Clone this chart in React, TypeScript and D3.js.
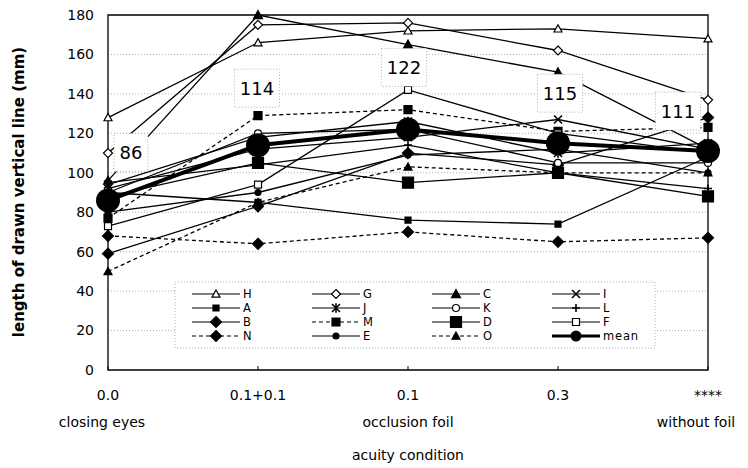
import React from "react";
import * as d3 from "d3";

const categories = ["0.0", "0.1+0.1", "0.1", "0.3", "****"];
const categorySub = ["closing eyes", "", "occlusion foil", "", "without foil"];
const yTicks = [0, 20, 40, 60, 80, 100, 120, 140, 160, 180];

const H = [128, 166, 172, 173, 168];
const A = [90, 85, 76, 74, 108];
const B = [59, 83, 110, 104, 128];
const N = [68, 64, 70, 65, 67];
const G = [110, 175, 176, 162, 137];
const J = [94, 118, 126, 110, 115];
const M = [77, 129, 132, 121, 123];
const E = [80, 90, 109, 112, 100];
const C = [96, 180, 165, 151, 112];
const K = [90, 120, 122, 105, 105];
const D = [88, 105, 95, 100, 88];
const O = [50, 85, 103, 100, 100];
const I = [92, 112, 118, 127, 112];
const L = [95, 104, 114, 100, 92];
const F = [73, 94, 142, 120, 110];
const meanValues = [86, 114, 122, 115, 111];
const meanLabels = ["86", "114", "122", "115", "111"];

type Kind = "triangle" | "diamond" | "square" | "circle" | "x" | "plus" | "asterisk";
interface Style { kind: Kind; r: number; filled: boolean; dashed?: boolean; lw?: number }

const seriesList: { name: string; values: number[]; style: Style }[] = [
  { name: "H", values: H, style: { kind: "triangle", r: 4, filled: false } },
  { name: "A", values: A, style: { kind: "square", r: 3, filled: true } },
  { name: "B", values: B, style: { kind: "diamond", r: 5.5, filled: true } },
  { name: "N", values: N, style: { kind: "diamond", r: 5.5, filled: true, dashed: true } },
  { name: "G", values: G, style: { kind: "diamond", r: 4.5, filled: false } },
  { name: "J", values: J, style: { kind: "asterisk", r: 4, filled: true } },
  { name: "M", values: M, style: { kind: "square", r: 4, filled: true, dashed: true } },
  { name: "E", values: E, style: { kind: "circle", r: 3, filled: true } },
  { name: "C", values: C, style: { kind: "triangle", r: 4.5, filled: true } },
  { name: "K", values: K, style: { kind: "circle", r: 3.5, filled: false } },
  { name: "D", values: D, style: { kind: "square", r: 5.5, filled: true } },
  { name: "O", values: O, style: { kind: "triangle", r: 4, filled: true, dashed: true } },
  { name: "I", values: I, style: { kind: "x", r: 4, filled: true } },
  { name: "L", values: L, style: { kind: "plus", r: 4, filled: true } },
  { name: "F", values: F, style: { kind: "square", r: 3.5, filled: false } },
];
const meanStyle: Style = { kind: "circle", r: 12, filled: true, lw: 4 };

// label box offsets relative to the mean point (layout only)
const labelOffsets = [
  [23, -48], [-1, -57], [-4, -62], [2, -50], [-30, -40],
];

const W = 748, HGT = 468;
const x = d3.scalePoint<string>().domain(categories).range([108, 708]);
const y = d3.scaleLinear().domain([0, 180]).range([370, 15]);
const FONT = "'DejaVu Sans', sans-serif";

function markerPath(kind: Kind, r: number): string {
  switch (kind) {
    case "triangle": return `M0,${-r}L${r},${r * 0.8}L${-r},${r * 0.8}Z`;
    case "diamond": return `M0,${-r}L${r},0L0,${r}L${-r},0Z`;
    case "square": return `M${-r},${-r}H${r}V${r}H${-r}Z`;
    case "x": return `M${-r},${-r}L${r},${r}M${-r},${r}L${r},${-r}`;
    case "plus": return `M0,${-r}V${r}M${-r},0H${r}`;
    case "asterisk": return `M${-r},${-r}L${r},${r}M${-r},${r}L${r},${-r}M0,${-r * 1.2}V${r * 1.2}`;
    default: return "";
  }
}

function Marker({ cx, cy, s }: { cx: number; cy: number; s: Style }) {
  if (s.kind === "circle") {
    return <circle cx={cx} cy={cy} r={s.r} fill={s.filled ? "#000" : "#fff"} stroke="#000" strokeWidth={1.2} />;
  }
  const open = s.kind === "x" || s.kind === "plus" || s.kind === "asterisk";
  return (
    <path
      transform={`translate(${cx},${cy})`}
      d={markerPath(s.kind, s.r)}
      fill={open ? "none" : s.filled ? "#000" : "#fff"}
      stroke="#000"
      strokeWidth={open ? 1.6 : 1.2}
    />
  );
}

const line = d3.line<number>().x((_, i) => x(categories[i]) as number).y((v) => y(v));

const legendCols = [192, 312, 432, 552];
const legendRows = [294, 308, 322, 336];
const legendItems = [
  ["H", "A", "B", "N"],
  ["G", "J", "M", "E"],
  ["C", "K", "D", "O"],
  ["I", "L", "F", "mean"],
];

export default function App() {
  const styleOf = (n: string): Style => n === "mean" ? meanStyle : seriesList.find((s) => s.name === n)!.style;
  return (
    <svg width={W} height={HGT} style={{ position: "absolute", left: 0, top: 0, background: "#fff" }} fontFamily={FONT}>
      <rect x={0} y={0} width={W} height={HGT} fill="#fff" />
      {/* grid */}
      {yTicks.filter((t) => t > 0 && t < 180).map((t) => (
        <line key={t} x1={108} x2={708} y1={y(t)} y2={y(t)} stroke="#999" strokeWidth={0.8} strokeDasharray="1,2" />
      ))}
      {/* frame */}
      <path d={`M108,${y(180)}H708V${y(0)}H108Z`} fill="none" stroke="#000" strokeWidth={1.3} />
      {categories.map((c) => (
        <line key={c} x1={x(c)} x2={x(c)} y1={y(0)} y2={y(0) - 4} stroke="#000" strokeWidth={1} />
      ))}
      {/* y ticks */}
      {yTicks.map((t) => (
        <text key={t} x={94} y={y(t)} dy="0.35em" textAnchor="end" fontSize={14}>{t}</text>
      ))}
      {/* x ticks */}
      {categories.map((c, i) => (
        <g key={c}>
          <text x={x(c)} y={400} textAnchor="middle" fontSize={14}>{c}</text>
          <text x={(x(c) as number) + (i === 0 ? -6 : i === 4 ? -12 : 0)} y={427} textAnchor="middle" fontSize={14}>{categorySub[i]}</text>
        </g>
      ))}
      <text x={408} y={460} textAnchor="middle" fontSize={14}>acuity condition</text>
      <text transform="translate(24,192) rotate(-90)" textAnchor="middle" fontSize={15} fontWeight="bold">
        length of drawn vertical line (mm)
      </text>
      {/* series lines */}
      {seriesList.map((s) => (
        <path key={s.name} d={line(s.values) || ""} fill="none" stroke="#000" strokeWidth={1.3}
          strokeDasharray={s.style.dashed ? "4,3" : undefined} />
      ))}
      {seriesList.map((s) => s.values.map((v, i) => (
        <Marker key={s.name + i} cx={x(categories[i]) as number} cy={y(v)} s={s.style} />
      )))}
      {/* mean */}
      <path d={line(meanValues) || ""} fill="none" stroke="#000" strokeWidth={4} />
      {meanValues.map((v, i) => (
        <circle key={i} cx={x(categories[i])} cy={y(v)} r={12} fill="#000" />
      ))}
      {/* value boxes */}
      {meanValues.map((v, i) => {
        const cx = (x(categories[i]) as number) + labelOffsets[i][0];
        const cy = y(v) + labelOffsets[i][1];
        const w = meanLabels[i].length * 11.4 + 11;
        return (
          <g key={"lb" + i}>
            <rect x={cx - w / 2} y={cy - 19} width={w} height={38} fill="#fff" stroke="#999" strokeWidth={0.8} strokeDasharray="1,2" />
            <text x={cx} y={cy} dy="0.36em" textAnchor="middle" fontSize={18}>{meanLabels[i]}</text>
          </g>
        );
      })}
      {/* legend */}
      <rect x={175} y={282} width={480} height={66} fill="#fff" stroke="#999" strokeWidth={0.8} strokeDasharray="1,2" />
      {legendItems.map((col, ci) => col.map((n, ri) => {
        const st = styleOf(n);
        const lx = legendCols[ci];
        const ly = legendRows[ri];
        const isMean = n === "mean";
        return (
          <g key={n}>
            <line x1={lx} x2={lx + 48} y1={ly} y2={ly} stroke="#000" strokeWidth={isMean ? 3 : 1.2}
              strokeDasharray={st.dashed ? "4,3" : undefined} />
            {isMean ? <circle cx={lx + 24} cy={ly} r={5.5} fill="#000" /> : <Marker cx={lx + 24} cy={ly} s={st} />}
            <text x={lx + 51} y={ly} dy="0.36em" fontSize={11.5} letterSpacing={0.8}>{n}</text>
          </g>
        );
      }))}
    </svg>
  );
}
